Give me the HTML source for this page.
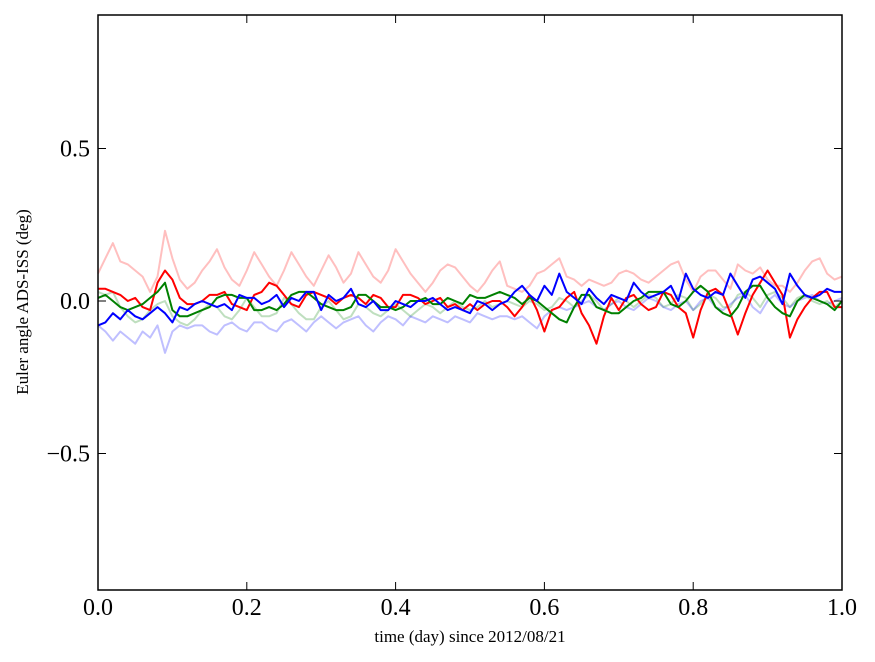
<!DOCTYPE html>
<html><head><meta charset="utf-8"><style>
body{margin:0;background:#fff;}
svg{display:block;font-family:"Liberation Serif",serif;}
</style></head><body>
<svg id="chart" width="875" height="662">
<g id="series"></g>
<rect x="98" y="15" width="744" height="575" fill="none" stroke="#000" stroke-width="1.5"/>
<g id="axes"></g>
<text x="470" y="642" text-anchor="middle" font-size="17">time (day) since 2012/08/21</text>
<text x="28" y="302" text-anchor="middle" font-size="17" transform="rotate(-90 28 302)">Euler angle ADS-ISS (deg)</text>
</svg>
<script>
const xTicks=[0,0.2,0.4,0.6,0.8,1.0];
const xTickLabels=["0.0","0.2","0.4","0.6","0.8","1.0"];
const yTicks=[0.5,0,-0.5];
const yTickLabels=["0.5","0.0","\u22120.5"];
const lightRed=[0.09,0.14,0.19,0.13,0.12,0.10,0.08,0.03,0.08,0.23,0.14,0.07,0.04,0.06,0.10,0.13,0.17,0.11,0.07,0.05,0.10,0.16,0.12,0.08,0.05,0.10,0.16,0.12,0.08,0.05,0.10,0.15,0.11,0.06,0.09,0.16,0.12,0.08,0.06,0.10,0.17,0.13,0.09,0.06,0.03,0.06,0.10,0.12,0.11,0.08,0.05,0.03,0.06,0.10,0.13,0.05,0.04,0.03,0.05,0.09,0.10,0.12,0.14,0.08,0.07,0.05,0.07,0.06,0.05,0.06,0.09,0.10,0.09,0.07,0.06,0.08,0.10,0.12,0.13,0.07,0.03,0.08,0.10,0.10,0.07,0.04,0.12,0.10,0.09,0.11,0.07,0.05,0.05,0.03,0.06,0.10,0.13,0.14,0.09,0.07,0.08];
const lightGreen=[0.03,0.02,0.03,-0.02,-0.05,-0.07,-0.06,-0.03,-0.01,0.0,-0.05,-0.07,-0.08,-0.06,-0.03,-0.01,-0.02,-0.05,-0.06,-0.03,0.01,-0.02,-0.05,-0.05,-0.04,0.01,-0.01,-0.04,-0.06,-0.06,-0.02,0.00,-0.03,-0.06,-0.05,-0.01,-0.02,-0.04,-0.05,-0.03,-0.01,-0.03,-0.05,-0.03,-0.01,-0.02,-0.04,-0.02,0.00,-0.02,-0.03,-0.02,0.00,-0.02,-0.01,0.00,-0.01,-0.02,0.00,-0.01,-0.03,-0.02,0.01,0.00,-0.02,0.00,0.02,0.00,-0.03,-0.01,0.01,0.00,-0.02,0.00,0.02,0.01,-0.02,-0.01,0.02,0.01,-0.03,-0.01,0.02,0.01,-0.02,-0.02,0.02,0.03,0.01,-0.02,0.02,0.03,0.01,-0.02,0.01,0.02,0.00,-0.01,0.00,-0.02,0.00];
const lightBlue=[-0.08,-0.10,-0.13,-0.10,-0.12,-0.14,-0.10,-0.12,-0.08,-0.17,-0.10,-0.08,-0.09,-0.08,-0.08,-0.10,-0.11,-0.08,-0.07,-0.09,-0.10,-0.07,-0.07,-0.09,-0.10,-0.07,-0.06,-0.08,-0.10,-0.07,-0.05,-0.07,-0.09,-0.07,-0.06,-0.05,-0.08,-0.10,-0.07,-0.05,-0.06,-0.08,-0.05,-0.06,-0.07,-0.05,-0.06,-0.07,-0.05,-0.06,-0.07,-0.04,-0.05,-0.06,-0.05,-0.05,-0.06,-0.05,-0.07,-0.09,-0.05,-0.03,-0.02,-0.03,-0.02,-0.01,0.00,-0.02,-0.03,-0.01,0.00,-0.02,-0.03,-0.01,0.01,0.00,-0.02,-0.03,-0.01,0.00,-0.03,0.00,0.01,-0.02,-0.03,-0.01,0.01,0.02,-0.02,-0.04,0.00,0.02,-0.01,-0.02,0.00,0.01,0.02,0.00,-0.01,0.00,0.01];
const red=[0.04,0.04,0.03,0.02,0.00,0.01,-0.02,-0.03,0.06,0.10,0.07,0.01,-0.01,-0.01,0.0,0.02,0.02,0.03,-0.01,-0.02,-0.03,0.02,0.03,0.06,0.05,0.02,-0.01,-0.02,0.02,0.03,0.02,0.01,-0.01,0.01,0.02,0.01,-0.01,0.02,0.01,-0.02,-0.02,0.02,0.02,0.01,-0.01,0.00,0.01,-0.02,-0.01,-0.03,-0.01,-0.03,-0.01,0.00,0.00,-0.02,-0.05,-0.02,0.02,-0.03,-0.10,-0.03,-0.02,0.01,0.03,-0.04,-0.08,-0.14,-0.05,0.01,-0.03,0.01,0.02,-0.01,-0.03,-0.02,0.03,0.02,-0.02,-0.04,-0.12,-0.03,0.03,0.04,0.02,-0.04,-0.11,-0.04,0.02,0.06,0.10,0.06,0.02,-0.12,-0.06,-0.02,0.01,0.03,0.03,-0.02,-0.02];
const green=[0.01,0.02,0.00,-0.02,-0.03,-0.02,-0.01,0.01,0.03,0.06,-0.03,-0.05,-0.05,-0.04,-0.03,-0.02,0.01,0.02,0.02,0.01,0.01,-0.03,-0.03,-0.02,-0.03,-0.01,0.02,0.03,0.03,0.01,-0.01,-0.02,-0.03,-0.03,-0.02,0.02,0.02,0.00,-0.02,-0.02,-0.03,-0.02,0.00,0.00,0.01,-0.01,-0.01,0.01,0.00,-0.01,0.02,0.01,0.01,0.02,0.03,0.02,0.01,-0.01,0.01,0.00,-0.02,-0.04,-0.06,-0.07,-0.02,0.02,0.02,-0.02,-0.03,-0.04,-0.04,-0.02,0.00,0.01,0.03,0.03,0.03,-0.01,-0.02,0.00,0.03,0.05,0.03,-0.02,-0.04,-0.05,-0.02,0.03,0.05,0.05,0.01,-0.02,-0.04,-0.05,0.00,0.02,0.01,0.00,-0.01,-0.03,0.00];
const blue=[-0.08,-0.07,-0.04,-0.06,-0.03,-0.05,-0.06,-0.04,-0.02,-0.04,-0.07,-0.02,-0.03,-0.01,0.00,-0.01,-0.02,-0.01,-0.03,0.02,0.01,0.01,-0.01,0.00,0.02,-0.02,0.01,0.00,0.03,0.03,-0.03,0.02,0.00,0.01,0.04,-0.01,-0.02,0.00,-0.03,-0.03,0.00,-0.01,-0.02,0.00,0.00,0.01,-0.01,-0.03,-0.02,-0.03,-0.04,0.00,-0.01,-0.03,-0.01,0.00,0.03,0.05,0.02,0.00,0.05,0.02,0.09,0.03,0.01,-0.01,0.04,0.01,-0.01,0.02,0.01,0.00,0.06,0.03,0.01,0.02,0.03,0.05,0.00,0.09,0.04,0.02,0.01,0.03,0.02,0.09,0.05,0.01,0.07,0.08,0.06,0.04,-0.01,0.09,0.05,0.02,0.01,0.02,0.04,0.03,0.03];
const X0=98,X1=842,Y0=301,YS=305;
const xs=v=>X0+v*(X1-X0);
const ys=v=>Y0-v*YS;
const NS="http://www.w3.org/2000/svg";
const sg=document.getElementById('series');
function draw(arr,color,width,name){
  const n=arr.length;
  const d=arr.map((v,i)=>(i?'L':'M')+xs(i/(n-1)).toFixed(1)+' '+ys(v).toFixed(1)).join(' ');
  const p=document.createElementNS(NS,'path');
  p.setAttribute('d',d);p.setAttribute('fill','none');p.setAttribute('stroke',color);
  p.setAttribute('stroke-width',width);p.setAttribute('stroke-linejoin','round');
  
  
  sg.appendChild(p);
}
draw(lightRed,'rgba(255,0,0,0.25)',2,'roll-light-series');
draw(lightGreen,'rgba(0,128,0,0.25)',2,'pitch-light-series');
draw(lightBlue,'rgba(0,0,255,0.25)',2,'yaw-light-series');
draw(red,'#ff0000',2,'roll-series');
draw(green,'#008000',2,'pitch-series');
draw(blue,'#0000ff',2,'yaw-series');
const ax=document.getElementById('axes');
function line(x1,y1,x2,y2,name){
  const l=document.createElementNS(NS,'line');
  l.setAttribute('x1',x1);l.setAttribute('y1',y1);l.setAttribute('x2',x2);l.setAttribute('y2',y2);
  l.setAttribute('stroke','#000');l.setAttribute('stroke-width','1');
  
  
  ax.appendChild(l);
}
function text(x,y,s,anchor,name){
  const t=document.createElementNS(NS,'text');
  t.setAttribute('x',x);t.setAttribute('y',y);t.setAttribute('text-anchor',anchor);
  t.setAttribute('font-size','24');t.textContent=s;
  
  
  ax.appendChild(t);
}
xTicks.forEach((v,i)=>{
  const x=xs(v);
  line(x,590,x,582,'x-tick');line(x,15,x,23,'x-tick-top');
  text(x,615,xTickLabels[i],'middle','x-tick-label');
});
yTicks.forEach((v,i)=>{
  const y=ys(v);
  line(98,y,106,y,'y-tick');line(842,y,834,y,'y-tick-right');
  text(90,y+8,yTickLabels[i],'end','y-tick-label');
});
</script>
</body></html>
